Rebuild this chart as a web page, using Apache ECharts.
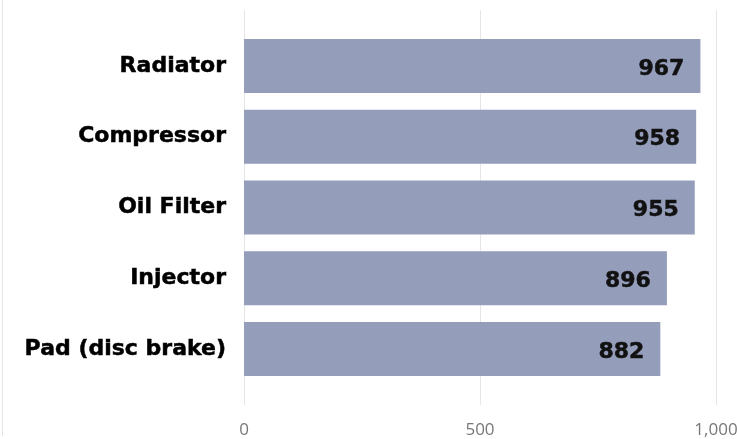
<!DOCTYPE html>
<html>
<head>
<meta charset="utf-8">
<script src="https://cdn.jsdelivr.net/npm/echarts@6/dist/echarts.min.js"></script>
<style>
html,body{margin:0;padding:0;background:#fff;}
#chart{width:737px;height:439px;position:relative;}
#edge{position:absolute;left:2px;top:0;width:1px;height:436px;background:#e4e4e4;}
</style>
</head>
<body>
<div id="chart"></div>
<div id="edge"></div>
<script>
const categories = ["Radiator", "Compressor", "Oil Filter", "Injector", "Pad (disc brake)"];
const values = [967, 958, 955, 896, 882];
const axisTicks = [0, 500, 1000];

const chart = echarts.init(document.getElementById('chart'), null, {renderer: 'canvas'});
const labelFont = 'DejaVu Sans';
chart.setOption({
  animation: false,
  grid: [
    {left: 244, right: 21, top: 10, bottom: 34, outerBoundsMode: 'none', containLabel: false},
    {left: 244, right: 21, top: 30.6, bottom: 54.6, outerBoundsMode: 'none', containLabel: false}
  ],
  xAxis: [
    {
      gridIndex: 0, type: 'value', min: axisTicks[0], max: axisTicks[axisTicks.length - 1], interval: 500,
      axisLine: {show: false}, axisTick: {show: false},
      splitLine: {show: true, lineStyle: {color: '#e6e6e6', width: 1}},
      axisLabel: {
        margin: 17, color: '#777', fontFamily: 'Open Sans', fontSize: 17,
        hideOverlap: false, showMaxLabel: true,
        formatter: v => v.toLocaleString('en-US')
      }
    },
    {
      gridIndex: 1, type: 'value', min: axisTicks[0], max: axisTicks[axisTicks.length - 1],
      show: false
    }
  ],
  yAxis: [
    {gridIndex: 0, type: 'value', show: false},
    {
      gridIndex: 1, type: 'category', data: categories, inverse: true,
      axisLine: {show: false}, axisTick: {show: false}, splitLine: {show: false},
      axisLabel: {
        margin: 18, color: '#000', fontFamily: labelFont, fontWeight: 'bold', fontSize: 22,
        textBorderColor: '#000', textBorderWidth: 0.5
      }
    }
  ],
  series: [{
    type: 'bar', xAxisIndex: 1, yAxisIndex: 1,
    data: values, barCategoryGap: '23.5%',
    itemStyle: {color: '#949dba'},
    label: {
      show: true, position: 'insideRight', distance: 16, offset: [0, 3],
      color: '#111', fontFamily: labelFont, fontWeight: 'bold', fontSize: 22,
      textBorderColor: '#111', textBorderWidth: 0.5
    }
  }]
});
</script>
</body>
</html>
